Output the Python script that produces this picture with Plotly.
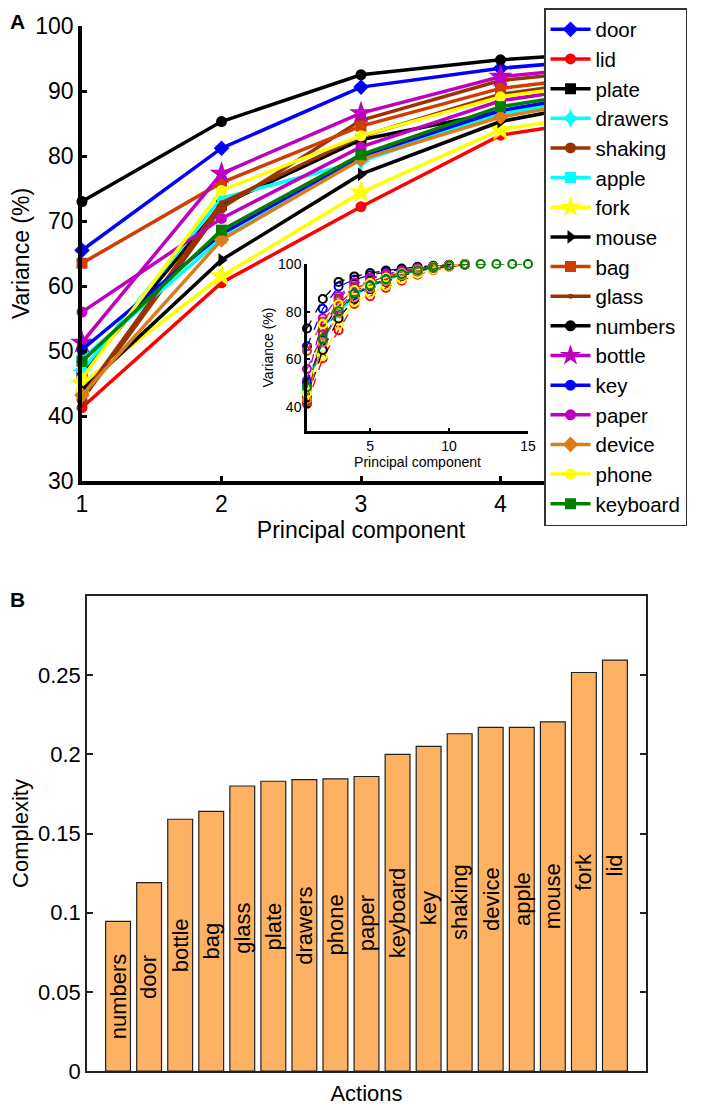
import plotly.graph_objects as go

# principal components (main plot shows 1..5, inset shows up to 15)
pcs = list(range(1, 16))

# cumulative variance (%) per action, PC 1..11 (keyboard to 15)
door = [65.5, 81.2, 90.6, 93.5, 95.3, 96.7, 97.7, 98.5, 99.1, 99.6, 99.9]
lid = [41.3, 60.5, 72.2, 83.2, 86.5, 90.0, 93.0, 95.5, 97.4, 98.8, 99.6]
plate = [46.5, 72.5, 82.5, 86.8, 90.3, 93.2, 95.5, 97.2, 98.5, 99.3, 99.8]
drawers = [47.0, 73.5, 79.2, 86.5, 90.2, 93.0, 95.3, 97.1, 98.4, 99.3, 99.8]
shaking = [42.5, 72.0, 85.5, 91.6, 93.8, 95.6, 97.0, 98.1, 98.9, 99.5, 99.9]
apple = [48.8, 67.3, 79.6, 86.8, 90.5, 93.2, 95.4, 97.1, 98.4, 99.3, 99.8]
fork = [45.0, 61.5, 74.4, 84.0, 87.6, 90.8, 93.6, 95.9, 97.6, 98.9, 99.7]
mouse = [44.0, 64.0, 77.2, 85.3, 89.4, 92.5, 95.0, 96.9, 98.3, 99.2, 99.8]
bag = [63.5, 75.9, 84.6, 90.4, 93.0, 95.0, 96.6, 97.9, 98.8, 99.5, 99.9]
glass = [43.0, 72.8, 83.0, 89.5, 92.5, 94.7, 96.4, 97.8, 98.8, 99.5, 99.9]
numbers = [73.0, 85.3, 92.5, 94.8, 96.2, 97.3, 98.1, 98.8, 99.3, 99.7, 99.9]
bottle = [51.3, 77.3, 86.6, 92.2, 94.3, 95.9, 97.2, 98.2, 99.0, 99.5, 99.9]
key = [50.2, 68.0, 80.0, 87.0, 90.6, 93.4, 95.6, 97.3, 98.5, 99.3, 99.8]
paper = [56.0, 70.4, 81.4, 88.5, 91.7, 94.1, 96.0, 97.5, 98.6, 99.4, 99.9]
device = [43.2, 67.1, 79.5, 86.0, 89.8, 92.8, 95.2, 97.0, 98.4, 99.3, 99.8]
phone = [45.8, 74.7, 83.1, 89.1, 92.0, 94.3, 96.1, 97.6, 98.7, 99.4, 99.9]
keyboard = [48.4, 68.6, 80.2, 87.6, 91.0, 93.7, 95.8, 97.4, 98.6, 99.4, 99.8, 100.0, 100.0, 100.0, 100.0]

names = ["door", "lid", "plate", "drawers", "shaking", "apple", "fork", "mouse", "bag",
         "glass", "numbers", "bottle", "key", "paper", "device", "phone", "keyboard"]
series = [door, lid, plate, drawers, shaking, apple, fork, mouse, bag,
          glass, numbers, bottle, key, paper, device, phone, keyboard]

# panel B
bar_actions = ["numbers", "door", "bottle", "bag", "glass", "plate", "drawers", "phone", "paper",
               "keyboard", "key", "shaking", "device", "apple", "mouse", "fork", "lid"]
complexity = [0.0945, 0.119, 0.159, 0.164, 0.180, 0.183, 0.184, 0.1845, 0.186,
              0.200, 0.205, 0.213, 0.217, 0.217, 0.2205, 0.2517, 0.2595]

colors = ["#0000FF", "#FF0000", "#000000", "#00FFFF", "#993300", "#00FFFF", "#FFFF00",
          "#000000", "#D23C00", "#993300", "#000000", "#BF00BF", "#0000FF", "#BF00BF",
          "#DA7D1A", "#FFFF00", "#008000"]
symbols = ["diamond", "circle", "square", "star-diamond", "circle", "square", "star",
           "triangle-right", "square", "circle", "circle", "star", "circle", "circle",
           "diamond", "circle", "square"]
sizes = [12, 11, 11, 14, 11, 11, 18, 12, 11, 5, 11, 18, 11, 11, 12, 11, 11]

# the page body adds an 8px margin, so the figure is a bit smaller than the window
OFF = 8
W, H = 708 - OFF, 1110 - OFF
FONT = "Liberation Sans, Arial, sans-serif"

fig = go.Figure()

for nm, ys, c, s, sz in zip(names, series, colors, symbols, sizes):
    fig.add_trace(go.Scatter(x=pcs[:5], y=ys[:5], name=nm, mode="lines+markers",
                             line=dict(color=c, width=3.5),
                             marker=dict(symbol=s, size=sz, color=c),
                             cliponaxis=False, xaxis="x", yaxis="y"))

# inset
for nm, ys, c in zip(names, series, colors):
    fig.add_trace(go.Scatter(x=pcs[:len(ys)], y=ys, mode="lines+markers", showlegend=False,
                             line=dict(color=c, width=1.3, dash="dash"),
                             marker=dict(symbol="circle-open", size=8, color=c, line=dict(width=2)),
                             cliponaxis=False, xaxis="x2", yaxis="y2"))

fig.add_trace(go.Bar(x=bar_actions, y=complexity, showlegend=False,
                     marker=dict(color="#FDB263", line=dict(color="#222222", width=1.2)),
                     width=0.8, xaxis="x3", yaxis="y3"))

# action names written vertically in the middle of each bar
bar_labels = [dict(text=a, x=a, y=v / 2, xref="x3", yref="y3", textangle=-90,
                   showarrow=False, font=dict(size=22, color="black"))
              for a, v in zip(bar_actions, complexity)]


# positions below are measured on the window, in pixels
def px_x(a, b):
    return [(a - OFF) / W, (b - OFF) / W]


def px_y(top, bottom):
    return [1 - (bottom - OFF) / H, 1 - (top - OFF) / H]


axis_common = dict(showline=True, linecolor="black", showgrid=False, zeroline=False,
                   ticks="inside", tickcolor="black", automargin=False)

fig.update_layout(
    width=W, height=H,
    margin=dict(l=0, r=0, t=0, b=0),
    paper_bgcolor="white", plot_bgcolor="white",
    font=dict(family=FONT, color="black"),
    xaxis=dict(axis_common, domain=px_x(82, 640), range=[1, 5], tickvals=[1, 2, 3, 4],
               linewidth=3.5, ticklen=5, tickwidth=3, tickfont=dict(size=23),
               title=dict(text="Principal component", font=dict(size=23), standoff=0),
               anchor="y"),
    yaxis=dict(axis_common, domain=px_y(26, 481), range=[30, 100], tickvals=list(range(30, 101, 10)),
               linewidth=3.5, ticklen=5, tickwidth=3, tickfont=dict(size=23),
               title=dict(text="Variance (%)", font=dict(size=23), standoff=4),
               anchor="x"),
    xaxis2=dict(axis_common, domain=px_x(307, 528), range=[1, 15], tickvals=[5, 10, 15],
                linewidth=2.5, ticklen=3, tickwidth=2, tickfont=dict(size=14),
                title=dict(text="Principal component", font=dict(size=14), standoff=2),
                anchor="y2"),
    yaxis2=dict(axis_common, domain=px_y(264, 431), range=[30, 100], tickvals=[40, 60, 80, 100],
                linewidth=2.5, ticklen=3, tickwidth=2, tickfont=dict(size=14),
                title=dict(text="Variance (%)", font=dict(size=14), standoff=2),
                anchor="x2"),
    xaxis3=dict(domain=px_x(87, 646), range=[-1, 17], showticklabels=False, ticks="",
                showline=True, linecolor="#222222", linewidth=1.5, mirror=True,
                showgrid=False, zeroline=False, automargin=False,
                title=dict(text="Actions", font=dict(size=22), standoff=14),
                anchor="y3"),
    yaxis3=dict(domain=px_y(596, 1071), range=[0, 0.30],
                tickvals=[0, 0.05, 0.1, 0.15, 0.2, 0.25],
                ticktext=["0", "0.05", "0.1", "0.15", "0.2", "0.25"],
                showline=True, linecolor="#222222", linewidth=1.5, mirror="allticks",
                ticks="inside", ticklen=6, tickcolor="#222222", tickwidth=1.5,
                showgrid=False, zeroline=False, automargin=False, tickfont=dict(size=22),
                title=dict(text="Complexity", font=dict(size=22), standoff=10),
                anchor="x3"),
    legend=dict(x=(544 - OFF) / W, y=1, xanchor="left", yanchor="top",
                bgcolor="white", bordercolor="#333333", borderwidth=1.5,
                font=dict(size=20.5), tracegroupgap=0, itemwidth=40),
    annotations=[
        dict(text="<b>A</b>", x=(8 - OFF) / W, y=1, xref="paper", yref="paper",
             xanchor="left", yanchor="top", showarrow=False, font=dict(size=21)),
        dict(text="<b>B</b>", x=(8 - OFF) / W, y=1 - (586 - OFF) / H, xref="paper", yref="paper",
             xanchor="left", yanchor="top", showarrow=False, font=dict(size=21)),
    ] + bar_labels,
)

fig.write_html("out.html")
